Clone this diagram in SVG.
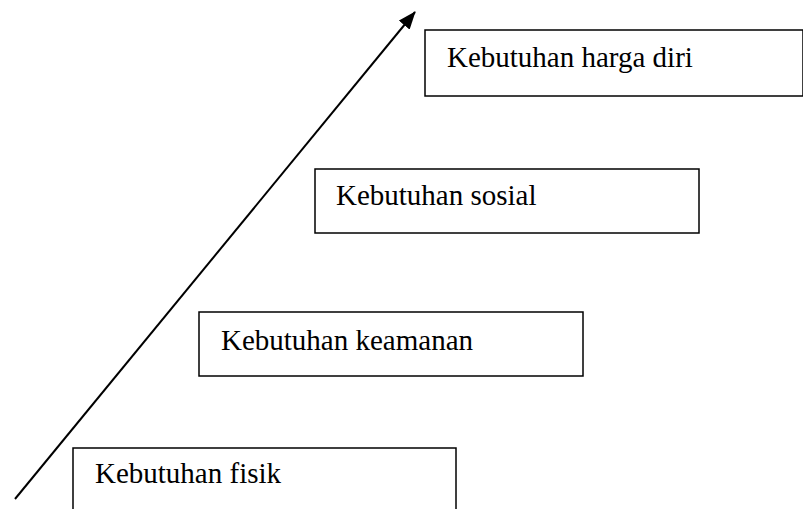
<svg xmlns="http://www.w3.org/2000/svg" width="803" height="509" viewBox="0 0 803 509">
<style>
.box{fill:#fff;stroke:#000;stroke-width:1.5}
.lbl{font-family:"Liberation Serif","Times New Roman",serif;font-size:29px;fill:#000}
.conn{stroke:#000;stroke-width:2;fill:none}
</style>
<defs>
<marker id="ah" markerWidth="18" markerHeight="14" refX="17" refY="7" orient="auto" markerUnits="userSpaceOnUse" viewBox="0 0 18 14">
<path d="M0,0 L18,7 L0,14 Z" fill="#000"/>
</marker>
</defs>
<rect width="803" height="509" fill="#fff"/>
<g id="connectors">
<line class="conn" x1="15" y1="499" x2="415" y2="12" marker-end="url(#ah)"/>
</g>
<g id="node-harga-diri">
<rect class="box" x="425" y="30" width="378" height="66"/>
<text class="lbl" x="447" y="67">Kebutuhan harga diri</text>
</g>
<g id="node-sosial">
<rect class="box" x="315" y="169" width="384" height="64"/>
<text class="lbl" x="336" y="205">Kebutuhan sosial</text>
</g>
<g id="node-keamanan">
<rect class="box" x="199" y="312" width="384" height="64"/>
<text class="lbl" x="221" y="350">Kebutuhan keamanan</text>
</g>
<g id="node-fisik">
<rect class="box" x="73" y="448" width="383" height="70"/>
<text class="lbl" x="95" y="483">Kebutuhan fisik</text>
</g>
</svg>
